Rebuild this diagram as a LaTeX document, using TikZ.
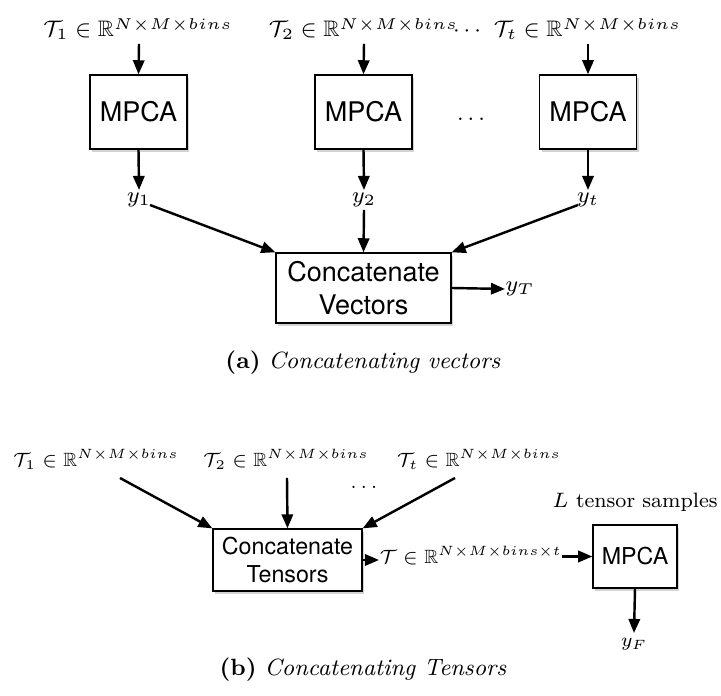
\documentclass[tikz,border=0pt]{standalone}
\usepackage{fix-cm}
\usepackage{amssymb}
\usepackage{fontspec}
\newfontfamily\helv{TeX Gyre Heros}
\usetikzlibrary{arrows.meta,shadows}
\begin{document}
\begin{tikzpicture}[x=0.37pt,y=-0.37pt,
  arr/.style={line width=0.9pt,-{Triangle[length=5.2pt,width=4.2pt]}},
  blk/.style={draw,line width=0.5pt,fill=white,font=\helv,align=center,inner sep=0pt,
    drop shadow={shadow xshift=0.8pt,shadow yshift=-1.2pt,opacity=0.35}},
  blkb/.style={blk,font=\helv\fontsize{8.6}{10}\selectfont},
  lbl/.style={inner sep=0pt,anchor=base,font=\fontsize{8.3}{10}\selectfont},
  lblb/.style={inner sep=0pt,anchor=base,font=\fontsize{7.1}{9}\selectfont},
  captxt/.style={font=\fontsize{8.7}{10}\selectfont}]
\useasboundingbox (0,0) rectangle (721,696);
% part (a)
\node[lbl] (t1) at (138,37) {$\mathcal{T}_1\in\mathbb{R}^{N\times M\times bins}$};
\node[lbl] (t2) at (363.5,37) {$\mathcal{T}_2\in\mathbb{R}^{N\times M\times bins}$};
\node[lbl] (tdots) at (467,37) {$\cdots$};
\node[lbl] (tt) at (587.5,37) {$\mathcal{T}_t\in\mathbb{R}^{N\times M\times bins}$};
\node[blk,minimum width=35.9pt,minimum height=27.4pt] (m1) at (138.5,112) {MPCA};
\node[blk,minimum width=35.9pt,minimum height=27.4pt] (m2) at (363.5,112) {MPCA};
\node[blk,minimum width=35.9pt,minimum height=27.4pt] (m3) at (588,112) {MPCA};
\node[lbl] (mdots) at (471,121) {$\ldots$};
\node[lbl] (y1) at (139,203) {$y_1$};
\node[lbl] (y2) at (364,203) {$y_2$};
\node[lbl] (yt) at (588,203) {$y_t$};
\node[blk,minimum width=64.75pt,minimum height=25.9pt] (cv) at (363.5,288) {Concatenate\\Vectors};
\node[lbl,anchor=west] (yT) at (505,289) {$y_T$};
\coordinate (t1a) at (139,44);
\coordinate (t2a) at (364,44);
\coordinate (tta) at (588,44);
\draw[arr] (t1a) -- (m1.north);
\draw[arr] (t2a) -- (m2.north);
\draw[arr] (tta) -- (m3.north);
\draw[arr] (m1.south) -- (139,190);
\draw[arr] (m2.south) -- (364,190);
\draw[arr] (m3.south) -- (588,190);
\draw[arr] (150,205) -- (cv.north west);
\draw[arr] (364,210) -- (cv.north);
\draw[arr] (578,205) -- (cv.north east);
\draw[arr] (cv.east) -- (yT.west);
\node[captxt] (capa) at (363,363) {\textbf{(a)} \textit{Concatenating vectors}};
% part (b)
\node[lblb] (b1) at (96,467) {$\mathcal{T}_1\in\mathbb{R}^{N\times M\times bins}$};
\node[lblb] (b2) at (286,467) {$\mathcal{T}_2\in\mathbb{R}^{N\times M\times bins}$};
\node[lblb] (bt) at (479,467) {$\mathcal{T}_t\in\mathbb{R}^{N\times M\times bins}$};
\node[lblb] (bdots) at (364,489) {$\ldots$};
\node[blkb,minimum width=55.1pt,minimum height=22.9pt] (ct) at (287.5,560) {Concatenate\\Tensors};
\node[lblb,anchor=base west] (T) at (379,564) {$\mathcal{T}\in\mathbb{R}^{N\times M\times bins\times t}$};
\node[blkb,minimum width=31.1pt,minimum height=23.3pt] (mb) at (635,556.5) {MPCA};
\node[lblb,font=\fontsize{7.7}{9}\selectfont] (L) at (635,508) {$L$ tensor samples};
\node[lblb] (yF) at (634,647) {$y_F$};
\draw[arr] (120,478) -- (ct.north west);
\draw[arr] (287,478) -- (ct.north);
\draw[arr] (455,478) -- (ct.north east);
\draw[arr] (ct.east) -- (ct.east -| T.west);
\draw[arr] (mb.west -| T.east) -- (mb.west);
\draw[arr] (mb.south) -- (634,633);
\node[captxt] (capb) at (363,670) {\textbf{(b)} \textit{Concatenating Tensors}};
\end{tikzpicture}
\end{document}
